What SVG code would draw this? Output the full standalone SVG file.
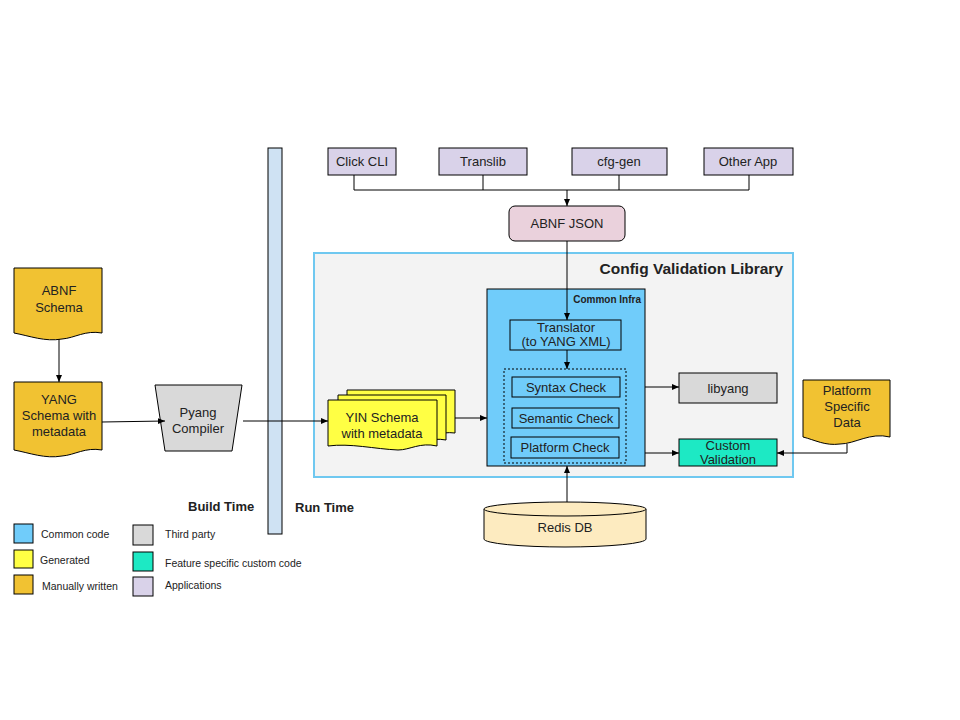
<svg xmlns="http://www.w3.org/2000/svg" width="960" height="720" viewBox="0 0 960 720">
<defs>
<marker id="ah" markerWidth="8" markerHeight="8" refX="7" refY="4" orient="auto" markerUnits="userSpaceOnUse"><path d="M0,1 L7,4 L0,7 Z" fill="#000"/></marker>
<style>
text{font-family:"Liberation Sans",Arial,sans-serif;fill:#222;}
.t{font-size:13px;text-anchor:middle;}
.b{font-weight:bold;}
.app{fill:#d9d2e9;stroke:#000;}
.man{fill:#f1c232;stroke:#000;}
.gen{fill:#ffff44;stroke:#000;}
.blue{fill:#70ccfa;stroke:#000;}
.gray{fill:#d9d9d9;stroke:#000;}
.teal{fill:#1de9c4;stroke:#000;}
.c{fill:none;stroke:#000;stroke-width:1;}
.lg{font-size:10.5px;}
</style>
</defs>
<rect width="960" height="720" fill="#fff"/>

<g id="divider"><rect x="268" y="148" width="14" height="386" fill="#cfe2f3" stroke="#000"/></g>
<text x="188" y="511" font-size="13" class="b">Build Time</text>
<text x="295" y="512" font-size="13" class="b">Run Time</text>

<g id="cvl"><rect x="314" y="253" width="479" height="224" fill="#f3f3f3" stroke="#6fc8f0" stroke-width="2"/>
<text x="783" y="274" font-size="15.5" class="b" text-anchor="end">Config Validation Library</text></g>

<g id="clickcli"><rect class="app" x="328" y="148" width="68" height="27"/><text class="t" x="362" y="166">Click CLI</text></g>
<g id="translib"><rect class="app" x="439" y="148" width="88" height="27"/><text class="t" x="483" y="166">Translib</text></g>
<g id="cfggen"><rect class="app" x="572" y="148" width="95" height="27"/><text class="t" x="619" y="166">cfg-gen</text></g>
<g id="otherapp"><rect class="app" x="704" y="148" width="89" height="27"/><text class="t" x="748" y="166">Other App</text></g>
<g id="abnfjson"><rect x="509" y="206" width="116" height="35" rx="6" fill="#ead1dc" stroke="#000"/><text class="t" x="567" y="228">ABNF JSON</text></g>

<g id="commoninfra"><rect class="blue" x="487" y="289" width="158" height="177"/><text x="641" y="303" font-size="10" class="b" text-anchor="end">Common Infra</text></g>
<g id="translator"><rect class="blue" x="510" y="320" width="111" height="30"/><text class="t" x="566" y="332" font-size="11.5">Translator</text><text class="t" x="566" y="346" font-size="11.5">(to YANG XML)</text></g>
<g id="checks"><rect x="504" y="369" width="122" height="94" fill="none" stroke="#000" stroke-dasharray="2,2"/></g>
<g id="syntax"><rect class="blue" x="512" y="377" width="108" height="20"/><text class="t" x="566" y="392" font-size="12">Syntax Check</text></g>
<g id="semantic"><rect class="blue" x="512" y="408" width="107" height="20"/><text class="t" x="566" y="423" font-size="12">Semantic Check</text></g>
<g id="platform"><rect class="blue" x="511" y="437" width="108" height="21"/><text class="t" x="565" y="452" font-size="12">Platform Check</text></g>
<g id="libyang"><rect class="gray" x="679" y="373" width="98" height="30"/><text class="t" x="728" y="393">libyang</text></g>
<g id="customval"><rect class="teal" x="679" y="439" width="98" height="27"/><text class="t" x="728" y="450" font-size="11">Custom</text><text class="t" x="728" y="463.5" font-size="11">Validation</text></g>

<g id="psd"><path class="man" d="M803,380 H890 V437 C870,432 855,444 840,444 C825,446 815,440 803,437 Z"/>
<text class="t" x="847" y="395">Platform</text><text class="t" x="847" y="411">Specific</text><text class="t" x="847" y="427">Data</text></g>

<g id="redis"><path d="M484,509 V539 A81,8 0 0 0 646,539 V509" fill="#fdebc0" stroke="#000"/><ellipse cx="565" cy="509" rx="81" ry="7" fill="#fdebc0" stroke="#000"/>
<text class="t" x="565" y="532" font-size="15">Redis DB</text></g>

<g id="yin">
<path class="gen" d="M347,390 H455 V433 C440,431 430,438 420,437 C395,436 370,430 347,433 Z"/>
<path class="gen" d="M338,395 H446 V440 C430,437 420,444 410,443 C385,442 360,436 338,439 Z"/>
<path class="gen" d="M328,400 H437 V446 C420,442 410,450 398,450 C375,449 350,443 328,446 Z"/>
<text class="t" x="382" y="422">YIN Schema</text><text class="t" x="382" y="438">with metadata</text></g>

<g id="abnfschema"><path class="man" d="M14,268 H102 V333 C85,330 75,338 62,339 C45,342 30,336 14,333 Z"/>
<text class="t" x="59" y="295">ABNF</text><text class="t" x="59" y="312">Schema</text></g>
<g id="yang"><path class="man" d="M14,382 H102 V450 C85,447 75,455 62,456 C45,459 30,453 14,450 Z"/>
<text class="t" x="59" y="404">YANG</text><text class="t" x="59" y="420">Schema with</text><text class="t" x="59" y="436">metadata</text></g>
<g id="pyang"><path class="gray" d="M155,385 H242 L232,451 H165 Z"/><text class="t" x="198" y="417" font-size="12">Pyang</text><text class="t" x="198" y="433" font-size="12">Compiler</text></g>

<g id="connectors">
<path class="c" d="M354,175 V190 H749 V175 M483,175 V190 M619,175 V190"/>
<path class="c" d="M567,190 V206" marker-end="url(#ah)"/>
<path class="c" d="M567,241 V320" marker-end="url(#ah)"/>
<path class="c" d="M567,350 V369" marker-end="url(#ah)"/>
<path class="c" d="M645,387 H679" marker-end="url(#ah)"/>
<path class="c" d="M645,453 H679" marker-end="url(#ah)"/>
<path class="c" d="M847,444 V453 H777" marker-end="url(#ah)"/>
<path class="c" d="M567,502 V466" marker-end="url(#ah)"/>
<path class="c" d="M455,418 H487" marker-end="url(#ah)"/>
<path class="c" d="M243,421 H328" marker-end="url(#ah)"/>
<path class="c" d="M102,422 L165,421" marker-end="url(#ah)"/>
<path class="c" d="M59,339 V382" marker-end="url(#ah)"/>
</g>

<g id="legend">
<rect class="blue" x="14" y="524" width="19" height="19"/><text class="lg" x="41" y="538">Common code</text>
<rect class="gen" x="14" y="550" width="19" height="18"/><text class="lg" x="40" y="564">Generated</text>
<rect class="man" x="14" y="575" width="19" height="19"/><text class="lg" x="42" y="590">Manually written</text>
<rect class="gray" x="133" y="525" width="20" height="20"/><text class="lg" x="165" y="538">Third party</text>
<rect class="teal" x="133" y="552" width="20" height="19"/><text class="lg" x="165" y="567">Feature specific custom code</text>
<rect x="133" y="577" width="20" height="19" fill="#d9d2e9" stroke="#000"/><text class="lg" x="165" y="589">Applications</text>
</g>
</svg>
